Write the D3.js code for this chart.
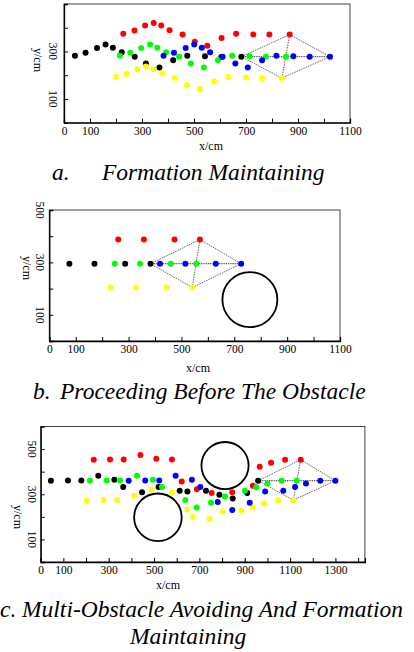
<!DOCTYPE html>
<html>
<head>
<meta charset="utf-8">
<script src="https://cdn.jsdelivr.net/npm/d3@7"></script>
<style>
body { margin: 0; background: #fff; }
svg { display: block; font-family: "Liberation Serif", "DejaVu Serif", serif; }
</style>
</head>
<body>
<svg id="fig" width="414" height="652"></svg>
<script>
// panel a - formation maintaining
const aBlack = [[42,282],[83,295],[127,315],[160,329],[188,316],[222,297],[272,278],[315,249],[367,232],[420,263],[474,282],[542,280],[605,277],[682,278]];
const aRed = [[228,375],[271,388],[312,409],[345,420],[374,409],[406,389],[456,371],[503,341],[551,324],[606,357],[662,375],[728,372],[790,371],[868,371]];
const aGreen = [[215,282],[255,295],[297,315],[331,329],[359,316],[393,297],[443,278],[488,249],[538,232],[592,263],[647,282],[713,280],[776,278],[854,278]];
const aYellow = [[200,192],[241,205],[282,225],[315,237],[345,225],[378,208],[427,188],[473,159],[523,142],[578,174],[632,192],[700,190],[762,187],[838,188]];
const aBlue = [[383,282],[423,295],[468,315],[501,329],[530,316],[562,297],[610,278],[659,249],[707,232],[762,263],[817,282],[882,280],[945,278],[1023,278]];
const aXLabels = [0,100,300,500,700,900,1100];
const aYLabels = [100,300];

// panel b - before the obstacle
const bBlack = [[76,295],[171,295],[287,295],[383,295]];
const bRed = [[261,387],[358,387],[474,387],[570,387]];
const bGreen = [[248,295],[343,295],[460,295],[556,295]];
const bYellow = [[233,204],[328,204],[445,204],[541,204]];
const bBlue = [[419,295],[515,295],[630,295],[726,295]];
const bObstacles = [[759,158,104]];
const bXLabels = [0,100,300,500,700,900,1100];
const bYLabels = [100,300,500];

// panel c - multi obstacle
const cBlack = [[45,360],[120,361],[179,361],[254,382],[325,364],[364,332],[447,309],[520,332],[613,315],[647,312],[729,316],[788,298],[847,281],[911,306],[959,360]];
const cRed = [[234,453],[306,454],[366,454],[440,474],[510,457],[579,454],[622,357],[689,322],[754,306],[845,309],[936,338],[966,422],[1016,439],[1078,453],[1147,453]];
const cGreen = [[217,360],[291,361],[350,361],[425,382],[495,364],[535,332],[638,274],[688,241],[751,262],[813,290],[901,316],[951,331],[1000,348],[1063,360],[1129,360]];
const cYellow = [[203,271],[278,274],[337,274],[412,293],[490,321],[579,307],[647,233],[672,199],[745,190],[803,224],[885,228],[936,242],[986,259],[1048,272],[1114,274]];
const cBlue = [[388,360],[461,361],[523,361],[595,382],[667,364],[704,332],[781,266],[845,230],[922,262],[990,312],[1070,315],[1122,332],[1170,348],[1233,360],[1300,360]];
const cObstacles = [[517,198,105],[813,427,104]];
const cXLabels = [0,100,300,500,700,900,1100,1300];
const cYLabels = [100,300,500];

const svg = d3.select("#fig");
svg.append("rect").attr("width", 414).attr("height", 652).attr("fill", "#fff");

function panel(o) {
    const x = d3.scaleLinear().domain(o.xd).range(o.xr)
      , y = d3.scaleLinear().domain(o.yd).range(o.yr)
      , g = svg.append("g");

    g.append("rect").attr("x", o.xr[0]).attr("y", o.yr[1])
        .attr("width", o.xr[1] - o.xr[0]).attr("height", o.yr[0] - o.yr[1])
        .attr("fill", "none").attr("stroke", "#444").attr("stroke-width", 1);

    const ax = g.append("g").attr("transform", "translate(0," + o.yr[0] + ")")
        .call(d3.axisBottom(x).tickValues(d3.range(0, o.xd[1] + 1, 100)).tickSize(-4).tickPadding(4)
            .tickFormat(d => o.xl.includes(d) ? d : ""));
    ax.selectAll("text").attr("font-family", "Liberation Serif").attr("font-size", 11.5).attr("fill", "#000");
    ax.select(".domain").attr("stroke", "#000").attr("stroke-width", 1.3);

    const ay = g.append("g").attr("transform", "translate(" + o.xr[0] + ",0)")
        .call(d3.axisLeft(y).tickValues(d3.range(100, o.yd[1], 100)).tickSize(-4).tickFormat(""));
    ay.select(".domain").attr("stroke", "#000").attr("stroke-width", 1.3);

    g.selectAll(".ylab").data(o.yl).enter().append("text")
        .attr("transform", d => "translate(" + o.ylx + "," + y(d) + ") rotate(90)")
        .attr("text-anchor", "middle").attr("dominant-baseline", "central")
        .attr("font-size", 11.5).text(d => d);

    g.append("text").attr("transform", "translate(" + o.ytx + "," + o.yty + ") rotate(90)")
        .attr("text-anchor", "middle").attr("dominant-baseline", "central")
        .attr("font-size", 12).text("y/cm");
    g.append("text").attr("x", o.xtx).attr("y", o.xty).attr("text-anchor", "middle")
        .attr("font-size", 12).text("x/cm");

    // obstacles
    g.selectAll(".obs").data(o.obs || []).enter().append("circle")
        .attr("cx", d => x(d[0])).attr("cy", d => y(d[1])).attr("r", d => x(d[2]) - x(0))
        .attr("fill", "none").attr("stroke", "#000").attr("stroke-width", 1.8);

    // formation: last point of each robot
    const L = s => s[s.length - 1]
      , k = L(o.s.black), r = L(o.s.red), b = L(o.s.blue), yw = L(o.s.yellow);
    const edges = [[k, r], [r, b], [b, yw], [yw, k], [r, yw]];
    g.selectAll(".edge").data(edges).enter().append("line")
        .attr("x1", d => x(d[0][0])).attr("y1", d => y(d[0][1]))
        .attr("x2", d => x(d[1][0])).attr("y2", d => y(d[1][1]))
        .attr("stroke", "#555").attr("stroke-width", 0.9).attr("stroke-dasharray", "1.5,1");
    g.append("line").attr("x1", x(k[0])).attr("y1", y(k[1])).attr("x2", x(b[0])).attr("y2", y(b[1]))
        .attr("stroke", "#222").attr("stroke-width", 1).attr("stroke-dasharray", "1,0.8");

    [["black", "#000"], ["red", "#ff0000"], ["green", "#00ff00"], ["yellow", "#ffff00"], ["blue", "#0000ff"]].forEach(c => {
        g.selectAll(".p" + c[0]).data(o.s[c[0]]).enter().append("circle")
            .attr("cx", d => x(d[0])).attr("cy", d => y(d[1])).attr("r", 3).attr("fill", c[1]);
    });

    o.cap.forEach(t => {
        g.append("text").attr("x", t[1]).attr("y", t[2]).attr("font-size", 23.5)
            .attr("font-style", "italic").text(t[0]);
    });
}

panel({
    xd: [0, 1100], xr: [64, 350], yd: [0, 500], yr: [122.7, 4],
    xl: aXLabels, yl: aYLabels, ylx: 53, ytx: 38, yty: 60, xtx: 211, xty: 150,
    s: {black: aBlack, red: aRed, green: aGreen, yellow: aYellow, blue: aBlue},
    cap: [["a.", 52, 180], ["Formation Maintaining", 102, 180]]
});
panel({
    xd: [0, 1100], xr: [49.3, 340], yd: [0, 500], yr: [341, 210],
    xl: bXLabels, yl: bYLabels, ylx: 40, ytx: 27, yty: 268, xtx: 198, xty: 372,
    s: {black: bBlack, red: bRed, green: bGreen, yellow: bYellow, blue: bBlue},
    obs: bObstacles,
    cap: [["b.", 33, 399], ["Proceeding Before The Obstacle", 60, 399]]
});
panel({
    xd: [0, 1430], xr: [40.7, 364.9], yd: [0, 600], yr: [562, 426.5],
    xl: cXLabels, yl: cYLabels, ylx: 31.7, ytx: 18, yty: 517, xtx: 168, xty: 589,
    s: {black: cBlack, red: cRed, green: cGreen, yellow: cYellow, blue: cBlue},
    obs: cObstacles,
    cap: [["c.", 0, 617], ["Multi-Obstacle Avoiding And Formation", 22, 617], ["Maintaining", 130, 644]]
});
</script>
</body>
</html>
